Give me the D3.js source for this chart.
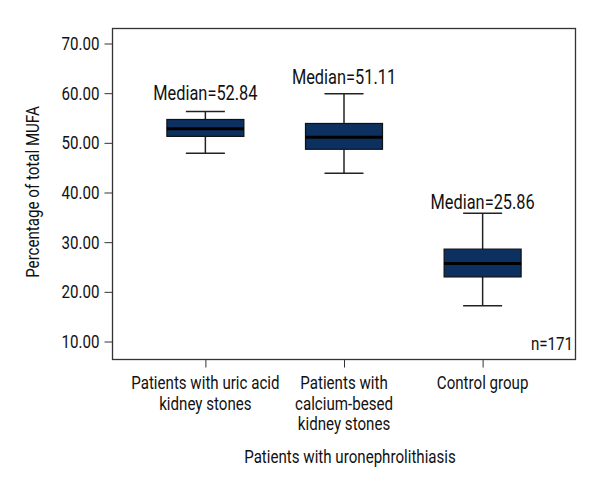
<!DOCTYPE html>
<html><head><meta charset="utf-8">
<script src="https://cdn.jsdelivr.net/npm/d3@7"></script>
<style>
body{margin:0;background:#fff;}
text{font-family:Roboto,"Noto Sans",sans-serif;fill:#111;}
</style></head>
<body><svg id="c" width="600" height="500"></svg>
<script>
const categories = [["Patients with uric acid","kidney stones"],["Patients with","calcium-besed","kidney stones"],["Control group"]];
const catKeys = ["uric","calcium","control"];
const whiskerLow  = [47.9, 43.9, 17.2];
const q1          = [51.3, 48.7, 23.0];
const medians     = [52.84, 51.11, 25.7];
const q3          = [54.7, 53.9, 28.6];
const whiskerHigh = [56.3, 59.9, 35.8];
const medianLabels = ["Median=52.84","Median=51.11","Median=25.86"];
const yTicks = [10,20,30,40,50,60,70];

const SX = 0.84; // condensed look
const labelGap = [11.7, 10, 4.7];

const svg = d3.select("#c");
const L=112.5, R=575.5, T=28.5, B=359.5;
const y = d3.scaleLinear().domain([10,70]).range([341.5,43.5]);
const x = d3.scalePoint().domain(catKeys).range([L,R]).padding(0.67);
const boxW = 77, capW = 39;

function ctext(px, py, size, anchor, lines, lh){
  const g = svg.append("g").attr("transform",`translate(${px},${py}) scale(${SX},1)`);
  const t = g.append("text").attr("text-anchor",anchor).style("font-size",size+"px");
  lines.forEach((ln,j)=>t.append("tspan").attr("x",0).attr("y",j*(lh||0)).text(ln));
  return g;
}

svg.append("rect").attr("x",L).attr("y",T).attr("width",R-L).attr("height",B-T)
  .attr("fill","none").attr("stroke","#333").attr("stroke-width",1.3);

const ya = svg.append("g").attr("transform",`translate(${L},0)`)
  .call(d3.axisLeft(y).tickValues(yTicks).tickSize(8).tickFormat(""));
ya.select(".domain").remove();
ya.selectAll("line").attr("stroke","#333");
yTicks.forEach(v=>ctext(L-13, y(v)+6.5, 18, "end", [d3.format(".2f")(v)]));

const xa = svg.append("g").attr("transform",`translate(0,${B})`)
  .call(d3.axisBottom(x).tickSize(8).tickFormat(""));
xa.select(".domain").remove();
xa.selectAll("line").attr("stroke","#333");

catKeys.forEach((k,i)=>{
  const cx = x(k);
  const g = svg.append("g");
  g.append("line").attr("x1",cx).attr("x2",cx).attr("y1",y(whiskerHigh[i])).attr("y2",y(q3[i])).attr("stroke","#222").attr("stroke-width",1.5);
  g.append("line").attr("x1",cx).attr("x2",cx).attr("y1",y(q1[i])).attr("y2",y(whiskerLow[i])).attr("stroke","#222").attr("stroke-width",1.5);
  g.append("line").attr("x1",cx-capW/2).attr("x2",cx+capW/2).attr("y1",y(whiskerHigh[i])).attr("y2",y(whiskerHigh[i])).attr("stroke","#222").attr("stroke-width",1.5);
  g.append("line").attr("x1",cx-capW/2).attr("x2",cx+capW/2).attr("y1",y(whiskerLow[i])).attr("y2",y(whiskerLow[i])).attr("stroke","#222").attr("stroke-width",1.5);
  g.append("rect").attr("x",cx-boxW/2).attr("y",y(q3[i])).attr("width",boxW).attr("height",y(q1[i])-y(q3[i]))
    .attr("fill","#0c3060").attr("stroke","#111").attr("stroke-width",1.2);
  g.append("line").attr("x1",cx-boxW/2).attr("x2",cx+boxW/2).attr("y1",y(medians[i])).attr("y2",y(medians[i])).attr("stroke","#000").attr("stroke-width",3);
  ctext(cx, y(whiskerHigh[i])-labelGap[i], 19.5, "middle", [medianLabels[i]]);
  ctext(cx, 389, 18, "middle", categories[i], 20.7);
});

ctext(573, 350, 18, "end", ["n=171"]);
ctext(350, 463, 18, "middle", ["Patients with uronephrolithiasis"]);
svg.append("g").attr("transform","translate(39,192) rotate(-90) scale(0.84,1)")
  .append("text").attr("text-anchor","middle").style("font-size","18px").text("Percentage of total MUFA");
</script></body></html>
